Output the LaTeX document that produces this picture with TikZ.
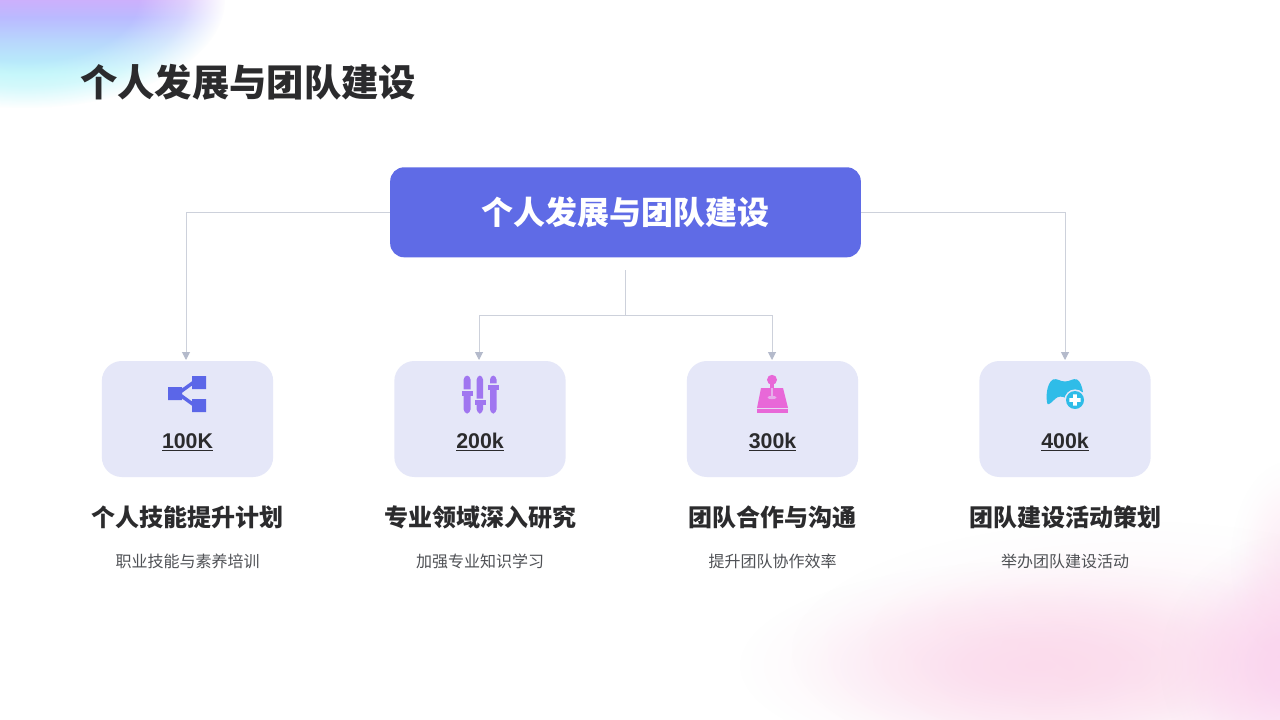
\documentclass[tikz,border=0pt]{standalone}
\usepackage{fontspec}
\setmainfont{Liberation Sans}
\newfontfamily\cjk{Noto Sans CJK SC}
\usetikzlibrary{fadings,arrows.meta,positioning}
\pgfdeclareradialshading{softshade}{\pgfpointorigin}{color(0bp)=(pgftransparent!0); color(6bp)=(pgftransparent!12); color(14bp)=(pgftransparent!50); color(20bp)=(pgftransparent!85); color(25bp)=(pgftransparent!100); color(50bp)=(pgftransparent!100)}
\pgfdeclarefading{softblob}{\pgfuseshading{softshade}}
\pgfdeclareradialshading{plateaushade}{\pgfpointorigin}{color(0bp)=(pgftransparent!0); color(14bp)=(pgftransparent!0); color(20bp)=(pgftransparent!40); color(25bp)=(pgftransparent!100); color(50bp)=(pgftransparent!100)}
\pgfdeclarefading{plateau}{\pgfuseshading{plateaushade}}
\pgfdeclareverticalshading{corner}{100bp}{rgb(0bp)=(0.72,0.96,0.98); rgb(33bp)=(0.72,0.96,0.98); rgb(40bp)=(0.72,0.85,0.99); rgb(46bp)=(0.73,0.73,1); rgb(50bp)=(0.80,0.69,0.99); rgb(100bp)=(0.80,0.69,0.99)}
\definecolor{ink}{HTML}{2B2B2D}
\definecolor{subink}{HTML}{4F5155}
\definecolor{cardbg}{HTML}{E5E7F8}
\definecolor{mainbg}{HTML}{5F6BE6}
\definecolor{wire}{HTML}{CDD1DB}
\definecolor{tipc}{HTML}{B4BACB}
\definecolor{iconA}{HTML}{5B66E8}
\definecolor{iconB}{HTML}{A076F0}
\definecolor{iconC}{HTML}{E868D8}
\definecolor{iconD}{HTML}{2FBCE8}
\definecolor{rosy}{HTML}{FBD3E8}
\definecolor{lilacpink}{HTML}{F9CDEE}
\newcommand{\blob}[6]{\fill[#1,path fading=softblob,opacity=#6] (#2,#3) ellipse [x radius=#4,y radius=#5];}
\tikzset{
  x=0.75pt,y=-0.75pt,
  card/.style={fill=cardbg,rounded corners=15pt,minimum width=128.5pt,minimum height=87pt,inner sep=0pt,draw=none},
  mainbox/.style={fill=mainbg,rounded corners=10.5pt,minimum width=353pt,minimum height=67.5pt,inner sep=0pt,text=white,font=\cjk\bfseries\fontsize{24pt}{30pt}\selectfont},
  wireline/.style={draw=wire,line width=0.75pt},
  arrowline/.style={wireline,-{Triangle[length=6pt,width=6pt,fill=tipc,color=tipc]}},
  num/.style={font=\bfseries\fontsize{16pt}{19pt}\selectfont,text=ink,inner sep=0pt,anchor=base},
  head/.style={font=\cjk\bfseries\fontsize{18pt}{22pt}\selectfont,text=ink,inner sep=0pt},
  subh/.style={font=\cjk\fontsize{12pt}{15pt}\selectfont,text=subink,inner sep=0pt},
  title/.style={font=\cjk\bfseries\fontsize{28pt}{34pt}\selectfont,text=ink,inner sep=0pt}
}
\begin{document}
\begin{tikzpicture}
\useasboundingbox (0,0) rectangle (1280,720);
\fill[white] (0,0) rectangle (1280,720);
% soft backgrounds
\begin{scope}
\clip (0,0) rectangle (1280,720);
\path[shading=corner,path fading=plateau] (25,0) ellipse [x radius=200,y radius=108];
\blob{rosy}{1040}{665}{300}{105}{0.72}
\blob{lilacpink}{1290}{665}{130}{130}{0.8}
\blob{rosy}{1290}{560}{60}{100}{0.4}
\blob{rosy}{1130}{650}{340}{130}{0.35}
\end{scope}
\node[title,anchor=west] (ttl) at (80,82) {个人发展与团队建设};
\node[mainbox] (root) at (625.5,212.3) {个人发展与团队建设};
\node[card] (c1) at (187.5,419) {};
\node[card] (c2) at (480,419) {};
\node[card] (c3) at (772.5,419) {};
\node[card] (c4) at (1065,419) {};
\coordinate (stem) at (625.7,270);
\coordinate (fork) at (625.7,315.5);
\draw[arrowline] (root.west) -| (186,360);
\draw[arrowline] (root.east) -| (1065,360);
\draw[wireline] (stem) -- (fork);
\draw[arrowline] (fork) -| (479,360);
\draw[arrowline] (fork) -| (772,360);
% icon 1
\fill[iconA] (168,387) rectangle (182,400) (192,376) rectangle (206,389) (192,399) rectangle (206,412);
\draw[iconA,line width=2.6pt] (194,382) -- (178,393.5) -- (194,405);
% icon 2
\fill[iconB,rounded corners=3pt] (463.7,375.5) rectangle (470.5,413.5);
\fill[iconB,rounded corners=3pt] (476.7,375.5) rectangle (483,413.5);
\fill[iconB,rounded corners=3pt] (490,375.5) rectangle (496.5,413.5);
\fill[cardbg] (462,389.3) rectangle (472.5,391) (475,398.6) rectangle (485,400.3) (488,383.3) rectangle (498.5,385);
\fill[iconB] (462,391) rectangle (472.5,396);
\fill[iconB] (474.5,400.3) rectangle (485.5,405);
\fill[iconB] (488,385) rectangle (498.5,390);
% icon 3
\fill[iconC] (772,379.8) circle (5);
\fill[iconC] (770.4,382) rectangle (773.6,390);
\fill[iconC] (761,388) -- (783,388) -- (788,408) -- (757,408) -- cycle;
\fill[iconC] (757,409) rectangle (788,413);
\draw[cardbg!55!iconC,line width=1.3pt] (772,388) -- (772,397);
\fill[cardbg!55!iconC] (772,397.5) ellipse [x radius=4.5,y radius=1.7];
% icon 4
\fill[iconD] (1047.5,404) .. controls (1045.5,398) and (1046.5,383) .. (1053,379.5) .. controls (1057,378) and (1060,381.5) .. (1065,381.5) .. controls (1070,381.5) and (1073,378) .. (1077,379.5) .. controls (1080,381) and (1082,386) .. (1083,392) -- (1066,398) .. controls (1062,396) and (1058,396) .. (1055,399) .. controls (1052,402) and (1049,405) .. (1047.5,404) -- cycle;
\fill[cardbg] (1075,400) circle (10.6);
\fill[iconD] (1075,400) circle (9);
\fill[white] (1073.2,394.3) rectangle (1076.8,405.7) (1069.3,398.2) rectangle (1080.7,401.8);
% texts
\node[num] (n1) at (187.5,448.3) {\underline{100K}};
\node[num] (n2) at (480,448.3) {\underline{200k}};
\node[num] (n3) at (772.5,448.3) {\underline{300k}};
\node[num] (n4) at (1065,448.3) {\underline{400k}};
\node[head] (h1) at (187.5,517) {个人技能提升计划};
\node[head] (h2) at (480,517) {专业领域深入研究};
\node[head] (h3) at (772.5,517) {团队合作与沟通};
\node[head] (h4) at (1065,517) {团队建设活动策划};
\node[subh] (s1) at (187.5,561) {职业技能与素养培训};
\node[subh] (s2) at (480,561) {加强专业知识学习};
\node[subh] (s3) at (772.5,561) {提升团队协作效率};
\node[subh] (s4) at (1065,561) {举办团队建设活动};
\end{tikzpicture}
\end{document}
